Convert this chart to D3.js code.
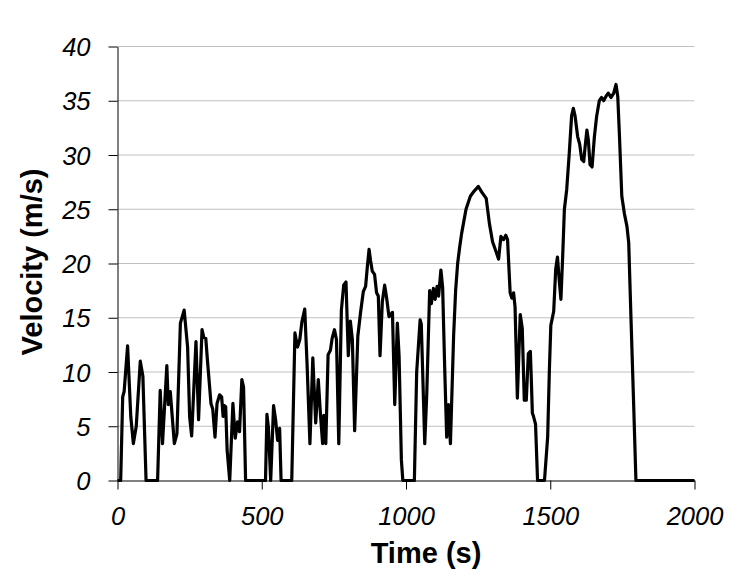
<!DOCTYPE html>
<html>
<head>
<meta charset="utf-8">
<script src="https://cdn.jsdelivr.net/npm/d3@7"></script>
<style>
  body { margin: 0; background: #fff; }
  svg { display: block; }
</style>
</head>
<body>
<svg id="chart" width="747" height="583"></svg>
<script>
// drive cycle (s, m/s)
const timeS = [
  0, 11, 18, 23, 35, 46, 55, 65, 79, 88, 99, 139, 148, 156, 171, 176, 183, 197, 206, 218,
  231, 243, 250, 257, 272, 281, 293, 299, 306, 312, 324, 330, 338, 345, 354, 361, 366, 370, 375, 380,
  389, 400, 408, 416, 423, 431, 437, 444, 513, 518, 523, 531, 541, 548, 555, 562, 567, 604,
  615, 624, 632, 639, 649, 657, 667, 677, 687, 696, 704, 711, 715, 722, 730, 738, 744, 752, 759, 767,
  776, 784, 792, 800, 807, 814, 822, 833, 843, 852, 860, 866, 872, 877, 883, 891, 898, 904, 910, 918,
  926, 933, 941, 947, 953, 961, 970, 976, 984, 989, 1029, 1037, 1049, 1053, 1065, 1072, 1082, 1088, 1095, 1101,
  1108, 1113, 1121, 1127, 1134, 1141, 1147, 1154, 1165, 1172, 1179, 1186, 1193, 1208, 1223, 1237, 1251, 1262, 1278, 1289,
  1300, 1312, 1321, 1329, 1338, 1346, 1352, 1361, 1367, 1373, 1378, 1386, 1396, 1403, 1410, 1417, 1424, 1431, 1434, 1438,
  1441, 1449, 1456, 1480, 1491, 1497, 1502, 1512, 1519, 1525, 1531, 1537, 1543, 1549, 1557, 1566, 1574, 1580, 1586, 1595,
  1602, 1609, 1616, 1621, 1627, 1632, 1638, 1645, 1653, 1661, 1670, 1678, 1685, 1693, 1701, 1711, 1720, 1728, 1734, 1740,
  1748, 1757, 1766, 1772, 1780, 1789, 1797, 2000
];
const velocity = [
  0, 0, 7.7, 8.2, 12.4, 5.9, 3.4, 5.0, 11.0, 9.6, 0, 0, 8.3, 3.4, 10.6, 7.0, 8.2, 3.4, 4.3, 14.5,
  15.7, 12.3, 5.9, 4.1, 12.8, 5.6, 13.9, 13.2, 13.1, 11.0, 7.1, 6.6, 4.0, 7.1, 7.9, 7.7, 5.9, 6.9, 6.8, 2.8,
  0, 7.1, 3.9, 5.4, 4.5, 9.3, 8.6, 0, 0, 6.1, 4.9, 0, 6.9, 5.6, 3.7, 4.8, 0, 0,
  13.6, 12.3, 13.0, 14.6, 15.8, 10.8, 3.4, 11.3, 5.3, 9.3, 5.9, 3.4, 6.0, 3.4, 11.6, 12.0, 13.1, 13.9, 13.0, 3.4,
  15.7, 18.0, 18.3, 11.5, 14.7, 13.0, 4.6, 13.3, 15.6, 17.4, 17.9, 19.7, 21.3, 20.3, 19.3, 19.0, 17.3, 17.0, 11.5, 16.5,
  18.0, 16.8, 15.1, 15.3, 15.5, 7.0, 14.5, 11.5, 1.9, 0, 0, 10.0, 14.8, 14.4, 3.4, 8.0, 17.5, 16.3, 17.7, 16.7,
  17.9, 17.0, 19.4, 17.8, 10.5, 4.0, 7.0, 3.4, 13.3, 17.5, 20.0, 21.5, 22.8, 25.0, 26.2, 26.7, 27.1, 26.6, 26.0, 23.7,
  22.0, 21.1, 20.4, 22.5, 22.2, 22.6, 22.2, 17.3, 16.8, 17.3, 16.0, 7.6, 15.3, 14.0, 7.4, 7.4, 11.7, 11.9, 9.6, 6.2,
  6.0, 5.2, 0, 0, 4.0, 10.2, 14.3, 15.6, 19.5, 20.6, 18.5, 16.7, 20.6, 25.0, 26.8, 30.2, 33.6, 34.3, 33.6, 31.7,
  31.0, 29.6, 29.4, 30.8, 32.3, 31.4, 29.1, 28.9, 31.7, 33.6, 35.0, 35.3, 35.0, 35.4, 35.7, 35.3, 35.7, 36.5, 35.4, 31.7,
  26.2, 24.6, 23.4, 21.9, 14.8, 7.1, 0, 0
];
const xTicks = [0, 500, 1000, 1500, 2000];
const yTicks = [0, 5, 10, 15, 20, 25, 30, 35, 40];
const xTitle = 'Time (s)';
const yTitle = 'Velocity (m/s)';

const svg = d3.select('#chart');

const x = d3.scaleLinear().domain([0, 2000]).range([117.5, 694.5]);
const y = d3.scaleLinear().domain([0, 40]).range([480.5, 46.5]);

// gridlines
svg.append('g')
  .selectAll('line')
  .data(yTicks.filter(d => d > 0))
  .enter()
  .append('line')
  .attr('x1', x(0))
  .attr('x2', x(2000))
  .attr('y1', d => y(d))
  .attr('y2', d => y(d))
  .attr('stroke', '#c0c0c0')
  .attr('stroke-width', 1);

const tickFont = 'Liberation Sans, Arial, sans-serif';

const yAxis = svg.append('g')
  .attr('transform', `translate(${x(0)},0)`)
  .call(d3.axisLeft(y).tickValues(yTicks).tickFormat(d3.format('d'))
    .tickSize(9).tickPadding(17).tickSizeOuter(0));

const xAxis = svg.append('g')
  .attr('transform', `translate(0,${y(0)})`)
  .call(d3.axisBottom(x).tickValues(xTicks).tickFormat(d3.format('d'))
    .tickSize(9).tickPadding(17).tickSizeOuter(0));

[xAxis, yAxis].forEach(g => {
  g.select('.domain').attr('stroke', '#000').attr('stroke-width', 1);
  g.selectAll('.tick line').attr('stroke', '#000').attr('stroke-width', 1);
  g.selectAll('.tick text')
    .attr('fill', '#000')
    .style('font-family', tickFont)
    .style('font-style', 'italic')
    .style('font-size', '25.5px');
});
yAxis.selectAll('.tick text').attr('dy', '0.36em').attr('x', -27);
xAxis.selectAll('.tick text').attr('dy', '0').attr('y', 44);

// the curve
const line = d3.line()
  .x((d, i) => x(timeS[i]))
  .y(d => y(d));

svg.append('path')
  .datum(velocity)
  .attr('d', line)
  .attr('fill', 'none')
  .attr('stroke', '#000')
  .attr('stroke-width', 3.2)
  .attr('stroke-linejoin', 'round');

// titles
svg.append('text')
  .attr('x', 426)
  .attr('y', 563)
  .attr('text-anchor', 'middle')
  .style('font-family', tickFont)
  .style('font-weight', 'bold')
  .style('font-size', '29px')
  .text(xTitle);

svg.append('text')
  .attr('transform', 'translate(42,262) rotate(-90)')
  .attr('text-anchor', 'middle')
  .style('font-family', tickFont)
  .style('font-weight', 'bold')
  .style('font-size', '29px')
  .text(yTitle);
</script>
</body>
</html>
